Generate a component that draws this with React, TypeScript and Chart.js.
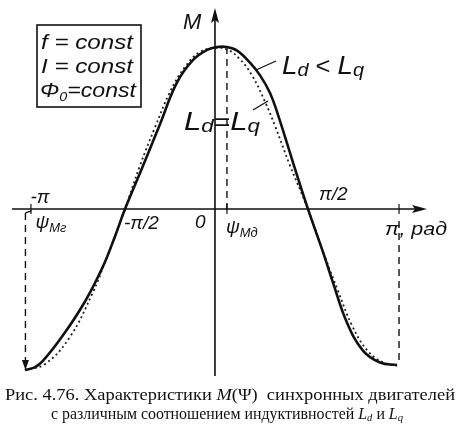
import React, { useEffect, useRef } from "react";
import { Chart, registerables } from "chart.js";

Chart.register(...registerables);

// Load angle ψ in units of π, torque M in relative units.
const solidPsi = [-1.033, -0.98, -0.935, -0.826, -0.707, -0.609, -0.543, -0.489, -0.391, -0.299, -0.207, -0.12, -0.043, 0.011, 0.065, 0.12, 0.19, 0.245, 0.299, 0.342, 0.424, 0.505, 0.587, 0.641, 0.717, 0.804, 0.897, 0.989];
const solidM = [-1.006, -0.99, -0.95, -0.79, -0.58, -0.36, -0.17, 0, 0.27, 0.53, 0.79, 0.93, 0.994, 1.012, 1.012, 0.99, 0.915, 0.835, 0.725, 0.59, 0.29, 0, -0.27, -0.46, -0.71, -0.885, -0.96, -0.975];

const dottedPsi = [-1.033, -0.924, -0.788, -0.663, -0.6, -0.55, -0.489, -0.408, -0.326, -0.245, -0.163, -0.082, 0, 0.071, 0.136, 0.201, 0.272, 0.326, 0.408, 0.505, 0.598, 0.668, 0.745, 0.832, 0.924, 1.0];
const dottedM = [-1.006, -0.97, -0.8, -0.52, -0.34, -0.19, 0, 0.27, 0.51, 0.73, 0.888, 0.981, 1.006, 0.994, 0.935, 0.835, 0.67, 0.52, 0.27, 0, -0.3, -0.51, -0.73, -0.89, -0.965, -0.981];

// Angles of maximum torque (motor and generator modes), in units of π.
const psiMd = 0.065;
const psiMr = -1.03;
const mMax = 1.012;
const mMinLeft = -1.006;
const mMinRight = -0.975;

const boxLines = ["f = const", "I = const"];
const captionLine1 = ["Рис. 4.76. Характеристики ", "M", "(Ψ)  синхронных двигателей"];
const captionLine2 = ["с различным соотношением индуктивностей ", "L", "d", " и ", "L", "q"];

const HAND = '"Liberation Sans"';
const SERIF = '"Liberation Serif"';

type Run = { text: string; font: string; dy?: number };

function runsWidth(ctx: CanvasRenderingContext2D, runs: Run[]) {
  let total = 0;
  for (const r of runs) {
    ctx.font = r.font;
    total += ctx.measureText(r.text).width;
  }
  return total;
}

// Draws a row of differently styled text pieces, stretched to a given width
// (or at natural width when none is given).
function drawRuns(ctx: CanvasRenderingContext2D, runs: Run[], x: number, y: number, align: "left" | "center", width?: number) {
  const total = runsWidth(ctx, runs);
  const sx = width ? width / total : 1;
  const w = total * sx;
  ctx.save();
  ctx.translate(align === "center" ? x - w / 2 : x, y);
  ctx.scale(sx, 1);
  let cx = 0;
  ctx.textAlign = "left";
  for (const r of runs) {
    ctx.font = r.font;
    ctx.fillText(r.text, cx, r.dy || 0);
    cx += ctx.measureText(r.text).width;
  }
  ctx.restore();
}

function dashedV(ctx: CanvasRenderingContext2D, x: number, y1: number, y2: number) {
  ctx.save();
  ctx.setLineDash([7, 5]);
  ctx.lineWidth = 1.4;
  ctx.beginPath();
  ctx.moveTo(x, y1);
  ctx.lineTo(x, y2);
  ctx.stroke();
  ctx.restore();
}

const figurePlugin = {
  id: "figure",
  beforeDatasetsDraw(chart: any) {
    const { ctx, chartArea, scales } = chart;
    const xs = scales.x;
    const ys = scales.y;
    const x0 = xs.getPixelForValue(0);
    const y0 = ys.getPixelForValue(0);
    ctx.save();
    ctx.strokeStyle = "#111";
    ctx.fillStyle = "#111";
    ctx.lineWidth = 1.6;
    // axes
    ctx.beginPath();
    ctx.moveTo(chartArea.left, y0);
    ctx.lineTo(chartArea.right - 4, y0);
    ctx.moveTo(x0, chartArea.bottom);
    ctx.lineTo(x0, chartArea.top + 4);
    ctx.stroke();
    // arrowheads
    ctx.beginPath();
    ctx.moveTo(chartArea.right, y0);
    ctx.lineTo(chartArea.right - 15, y0 - 4);
    ctx.lineTo(chartArea.right - 12, y0);
    ctx.lineTo(chartArea.right - 15, y0 + 4);
    ctx.closePath();
    ctx.fill();
    ctx.beginPath();
    ctx.moveTo(x0, chartArea.top);
    ctx.lineTo(x0 - 4, chartArea.top + 15);
    ctx.lineTo(x0, chartArea.top + 12);
    ctx.lineTo(x0 + 4, chartArea.top + 15);
    ctx.closePath();
    ctx.fill();
    // ticks
    ctx.lineWidth = 1.2;
    for (const v of [-1, psiMd, 1]) {
      const px = xs.getPixelForValue(v);
      ctx.beginPath();
      ctx.moveTo(px, y0 - 5);
      ctx.lineTo(px, y0 + 5);
      ctx.stroke();
    }
    // dashed projection lines
    const xMd = xs.getPixelForValue(psiMd);
    dashedV(ctx, xMd, ys.getPixelForValue(mMax), y0 + 6);
    const xMr = xs.getPixelForValue(psiMr);
    dashedV(ctx, xMr, y0 + 4, ys.getPixelForValue(mMinLeft) - 6);
    ctx.lineWidth = 1.3;
    ctx.beginPath();
    ctx.moveTo(xMr, y0 + 4);
    ctx.lineTo(xMr + 6, y0 + 2);
    ctx.stroke();
    const yb = ys.getPixelForValue(mMinLeft);
    ctx.beginPath();
    ctx.moveTo(xMr, yb);
    ctx.lineTo(xMr - 3.5, yb - 10);
    ctx.lineTo(xMr + 3.5, yb - 10);
    ctx.closePath();
    ctx.fill();
    const xPi = xs.getPixelForValue(1);
    dashedV(ctx, xPi, y0 + 12, ys.getPixelForValue(mMinRight));
    ctx.restore();
  },
  afterDraw(chart: any) {
    const { ctx, scales } = chart;
    const xs = scales.x;
    const x0 = xs.getPixelForValue(0);
    ctx.save();
    ctx.fillStyle = "#111";
    ctx.strokeStyle = "#111";
    ctx.textBaseline = "alphabetic";

    // conditions box
    ctx.lineWidth = 1.6;
    ctx.strokeRect(37, 25, 104, 82);
    const hand = `italic 21px ${HAND}`;
    const handSub = `italic 13px ${HAND}`;
    drawRuns(ctx, [{ text: boxLines[0], font: hand }], 41, 49, "left", 92);
    drawRuns(ctx, [{ text: boxLines[1], font: hand }], 41, 73, "left", 92);
    drawRuns(ctx, [
      { text: "Φ", font: hand },
      { text: "0", font: handSub, dy: 4 },
      { text: "=const", font: hand },
    ], 40, 97, "left", 96);

    // axis name
    ctx.font = `italic 22px ${HAND}`;
    ctx.textAlign = "left";
    ctx.fillText("M", x0 - 32, 29);

    // curve labels
    drawRuns(ctx, [
      { text: "L", font: `italic 25px ${HAND}` },
      { text: "d", font: `italic 18px ${HAND}`, dy: 2 },
      { text: " < ", font: `23px ${HAND}` },
      { text: "L", font: `italic 25px ${HAND}` },
      { text: "q", font: `italic 18px ${HAND}`, dy: 2 },
    ], 282, 74, "left", 82);
    ctx.lineWidth = 1.3;
    ctx.beginPath();
    ctx.moveTo(256, 70);
    ctx.lineTo(276, 61);
    ctx.stroke();

    drawRuns(ctx, [
      { text: "L", font: `italic 25px ${HAND}` },
      { text: "d", font: `italic 18px ${HAND}`, dy: 2 },
      { text: "=", font: `23px ${HAND}` },
      { text: "L", font: `italic 25px ${HAND}` },
      { text: "q", font: `italic 18px ${HAND}`, dy: 2 },
    ], x0 - 31, 130, "left", 76);
    ctx.beginPath();
    ctx.moveTo(253, 110);
    ctx.lineTo(268, 101);
    ctx.stroke();

    // angle labels
    const lab = `italic 19px ${HAND}`;
    const labSub = `italic 13px ${HAND}`;
    ctx.font = lab;
    ctx.textAlign = "center";
    ctx.fillText("-π", xs.getPixelForValue(-1) + 9, 203);
    drawRuns(ctx, [
      { text: "ψ", font: lab },
      { text: "Mг", font: labSub, dy: 4 },
    ], xs.getPixelForValue(psiMr) + 10, 228, "left");
    ctx.textAlign = "left";
    ctx.font = lab;
    ctx.fillText("-π/2", xs.getPixelForValue(-0.5) + 1, 229);
    ctx.fillText("0", x0 - 20, 228);
    drawRuns(ctx, [
      { text: "ψ", font: lab },
      { text: "Mд", font: labSub, dy: 4 },
    ], xs.getPixelForValue(psiMd) - 1, 233, "left");
    ctx.font = lab;
    ctx.fillText("π/2", xs.getPixelForValue(0.5) + 12, 200);
    drawRuns(ctx, [{ text: "π, рад", font: lab }], xs.getPixelForValue(1) - 14, 235, "left", 62);

    // caption
    const cap = `16.5px ${SERIF}`;
    const capI = `italic 16.5px ${SERIF}`;
    const capSub = `italic 11px ${SERIF}`;
    drawRuns(ctx, [
      { text: captionLine1[0], font: cap },
      { text: captionLine1[1], font: capI },
      { text: captionLine1[2], font: cap },
    ], 230, 400, "center", 450);
    drawRuns(ctx, [
      { text: captionLine2[0], font: cap },
      { text: captionLine2[1], font: capI },
      { text: captionLine2[2], font: capSub, dy: 2 },
      { text: captionLine2[3], font: cap },
      { text: captionLine2[4], font: capI },
      { text: captionLine2[5], font: capSub, dy: 2 },
    ], 227, 419, "center", 352);
    ctx.restore();
  },
};

export default function App() {
  const ref = useRef<HTMLCanvasElement | null>(null);

  useEffect(() => {
    document.body.style.margin = "0";
    document.body.style.background = "#fff";
    const canvas = ref.current;
    if (!canvas) return;
    const chart = new Chart(canvas, {
      type: "line",
      data: {
        datasets: [
          {
            label: "Ld < Lq",
            data: solidPsi.map((x, i) => ({ x, y: solidM[i] })),
            borderColor: "#111",
            borderWidth: 2.6,
            pointRadius: 0,
            tension: 0.4,
            fill: false,
          },
          {
            label: "Ld = Lq",
            data: dottedPsi.map((x, i) => ({ x, y: dottedM[i] })),
            borderColor: "#222",
            borderWidth: 1.8,
            borderDash: [2, 3],
            pointRadius: 0,
            tension: 0.4,
            fill: false,
          },
        ],
      },
      options: {
        animation: false,
        responsive: false,
        devicePixelRatio: 1,
        layout: { padding: { left: 12, right: 33, top: 8, bottom: 56 } },
        plugins: { legend: { display: false }, tooltip: { enabled: false } },
        scales: {
          x: { type: "linear", min: -1.103, max: 1.152, display: false },
          y: { type: "linear", min: -1.044, max: 1.256, display: false },
        },
      },
      plugins: [figurePlugin],
    } as any);
    return () => chart.destroy();
  }, []);

  return <canvas ref={ref} width={460} height={432} style={{ display: "block" }} />;
}
